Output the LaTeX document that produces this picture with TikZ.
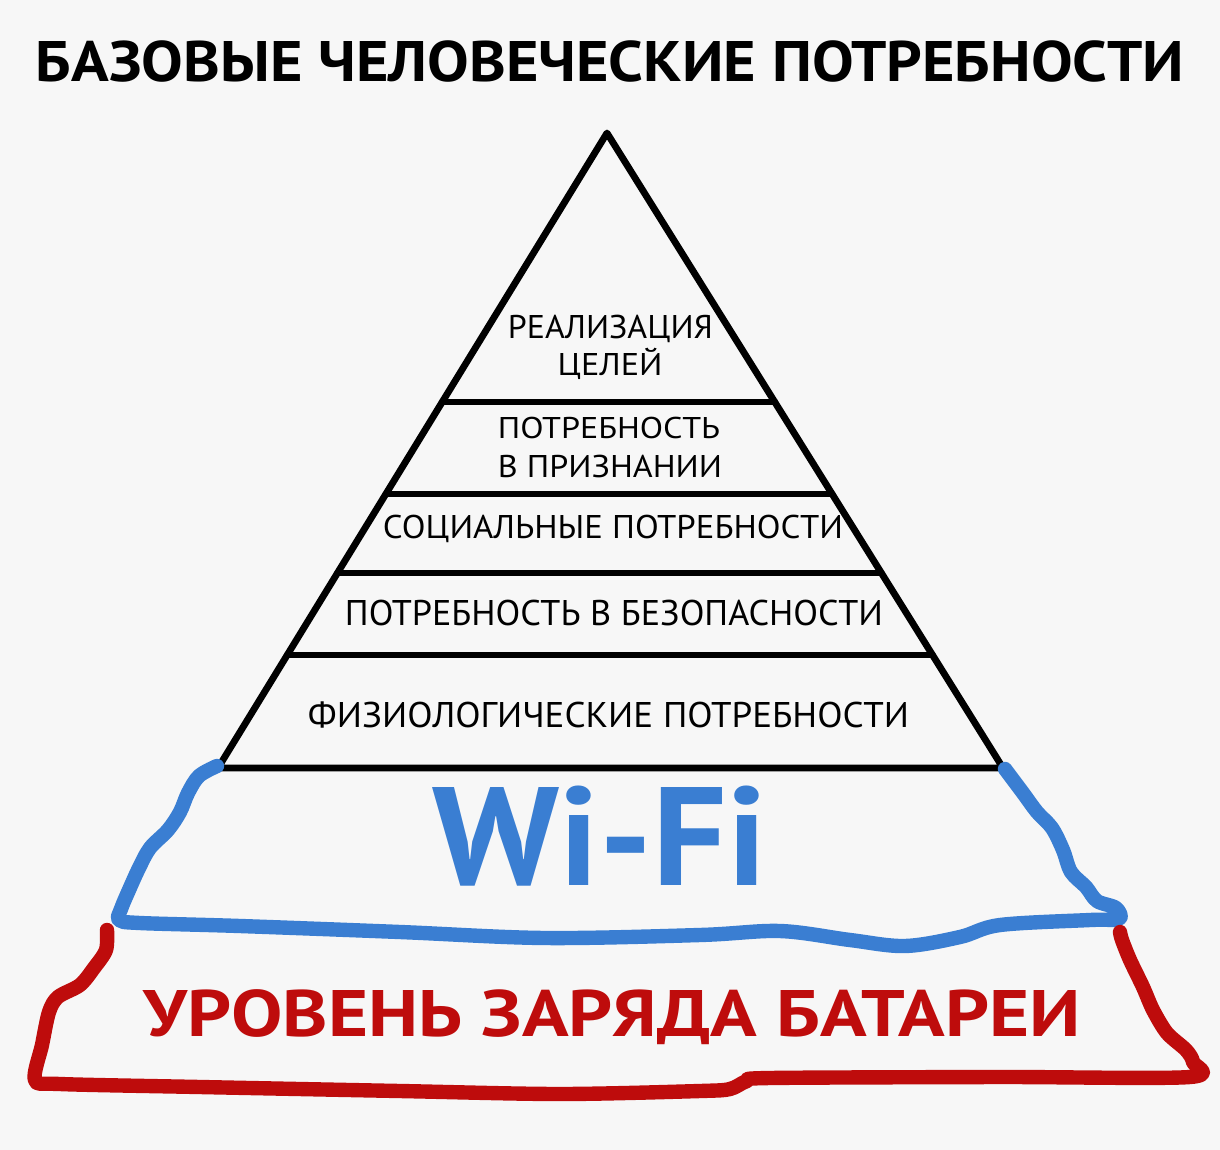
\documentclass[tikz,border=0pt]{standalone}
\usepackage{fontspec}
\setmainfont{PT Sans}
\usepackage{graphicx}
\usetikzlibrary{calc}
\definecolor{wifiblue}{RGB}{58,126,210}
\definecolor{battred}{RGB}{190,12,12}
\definecolor{paper}{RGB}{247,247,247}
\newcommand{\fitcaps}[3]{\resizebox{#1}{#2}{\smash{#3}\vphantom{H}}}
\begin{document}
\begin{tikzpicture}[x=0.5pt,y=-0.5pt,
  ink/.style={line width=3.4pt,line cap=round,line join=round},
  bluestroke/.style={draw=wifiblue,line width=7.2pt,line cap=round,line join=round},
  redstroke/.style={draw=battred,line width=7.2pt,line cap=round,line join=round},
  lbl/.style={inner sep=0pt,outer sep=0pt}]
\fill[paper] (0,0) rectangle (1220,1150);
\useasboundingbox (0,0) rectangle (1220,1150);

% title
\node[lbl,font=\bfseries] (title) at (610,62) {\fitcaps{574pt}{20pt}{БАЗОВЫЕ ЧЕЛОВЕЧЕСКИЕ ПОТРЕБНОСТИ}};

% pyramid
\coordinate (apex) at (607,133);
\coordinate (bl) at (218,768);
\coordinate (br) at (1003,768);
\draw[ink] (bl) -- (apex) -- (br) -- cycle;
\foreach \t in {0.4236,0.5685,0.6929,0.8220}{
  \draw[ink] ($(apex)!\t!(bl)$) -- ($(apex)!\t!(br)$);
}

% layer labels
\node[lbl] (l1a) at (610.5,326.5) {\fitcaps{102.5pt}{11.5pt}{РЕАЛИЗАЦИЯ}};
\node[lbl] (l1b) at (610,364) {\fitcaps{52.5pt}{11pt}{ЦЕЛЕЙ}};
\node[lbl] (l2a) at (609,427.5) {\fitcaps{111pt}{10.5pt}{ПОТРЕБНОСТЬ}};
\node[lbl] (l2b) at (610,466) {\fitcaps{112pt}{11pt}{В ПРИЗНАНИИ}};
\node[lbl] (l3) at (613,526.5) {\fitcaps{230pt}{11.5pt}{СОЦИАЛЬНЫЕ ПОТРЕБНОСТИ}};
\node[lbl] (l4) at (614,612.5) {\fitcaps{269pt}{12.5pt}{ПОТРЕБНОСТЬ В БЕЗОПАСНОСТИ}};
\node[lbl] (l5) at (608.5,714.5) {\fitcaps{300.5pt}{12.5pt}{ФИЗИОЛОГИЧЕСКИЕ ПОТРЕБНОСТИ}};

% Wi-Fi layer
\draw[bluestroke] plot[smooth,tension=0.55] coordinates {(217,766) (199,776) (188,793) (180,812) (168,830) (150,848) (139,868) (129,890) (121,909) (119,920) (140,923) (240,926) (400,932) (545,938) (700,935) (780,931) (850,940) (905,946) (960,937) (1000,925) (1090,920) (1119,919) (1116,908) (1097,901) (1086,887) (1071,872) (1063,850) (1052,828) (1037,812) (1023,793) (1005,769)};
\node[lbl,font=\bfseries,text=wifiblue] (wifi) at (600,836) {\fitcaps{167pt}{49pt}{Wi-Fi}};

% battery layer
\draw[redstroke] plot[smooth,tension=0.5] coordinates {(107,930) (106,950) (94,968) (80,985) (58,997) (49,1012) (42,1045) (35,1080) (60,1084) (200,1087) (400,1091) (560,1094) (700,1091) (730,1089) (747,1081) (770,1078) (1000,1077) (1190,1077) (1193,1062) (1186,1050) (1167,1033) (1153,1010) (1143,987) (1130,960) (1122,940) (1120,932)};
\node[lbl,font=\bfseries,text=battred] (batt) at (612.5,1013) {\fitcaps{468.5pt}{23pt}{УРОВЕНЬ ЗАРЯДА БАТАРЕИ}};
\end{tikzpicture}
\end{document}
